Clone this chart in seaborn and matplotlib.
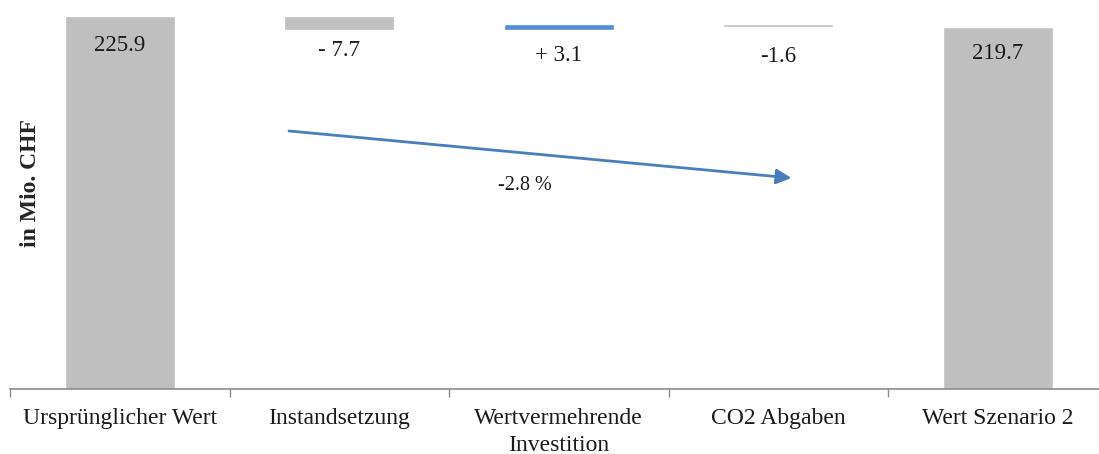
import matplotlib
matplotlib.use('Agg')
import matplotlib.pyplot as plt
import seaborn as sns
import pandas as pd

# Wasserfall: Ausgangswert, Veränderungen, Endwert (in Mio. CHF)
categories = ['Ursprünglicher Wert', 'Instandsetzung', 'Wertvermehrende\nInvestition',
              'CO2 Abgaben', 'Wert Szenario 2']
start_value = 225.9
changes = [-7.7, 3.1, -1.6]
end_value = 219.7
value_labels = ['225.9', '- 7.7', '+ 3.1', '-1.6', '219.7']
change_pct = '-2.8 %'

# Ober- und Unterkante jedes Balkens aus den Werten
tops, bottoms = [start_value], [0]
running = start_value
for c in changes:
    new = running + c
    tops.append(max(running, new))
    bottoms.append(min(running, new))
    running = new
tops.append(end_value)
bottoms.append(0)

df = pd.DataFrame({'cat': categories, 'top': tops, 'bottom': bottoms})
colors = ['#BFBFBF', '#BFBFBF', '#558ED5', '#BFBFBF', '#BFBFBF']

sns.set_style('white')
plt.rcParams['font.family'] = ['Liberation Serif', 'DejaVu Serif']

fig = plt.figure(figsize=(10.99, 4.54), dpi=100)
ax = fig.add_axes([10 / 1099, 1 - 389 / 454, 1097.5 / 1099, 389 / 454])

sns.barplot(data=df, x='cat', y='top', hue='cat', palette=colors, legend=False,
            width=0.5, saturation=1, ax=ax)
# weisse Balken verdecken den Teil unterhalb der Schwebebalken
sns.barplot(data=df, x='cat', y='bottom', color='white', width=0.52,
            saturation=1, ax=ax)

ax.set_ylim(15.7, 234.9)
ax.set_xlim(-0.5, len(categories) - 0.5)

label_y = [209.0, 206.7, 203.9, 202.8, 205.0]
for i, (lab, y) in enumerate(zip(value_labels, label_y)):
    ax.text(i, y, lab, ha='center', va='center', fontsize=16.5, color='#1a1a1a')

ax.annotate('', xy=(3.06, 134.6), xytext=(0.771, 161.1),
            arrowprops=dict(arrowstyle='-|>,head_length=0.9,head_width=0.45',
                            color='#4A7EBB', lw=2, shrinkA=0, shrinkB=0))
ax.text(1.846, 130.6, change_pct, ha='center', va='center', fontsize=14.5, color='#1a1a1a')

ax.set_xlabel('')
ax.set_ylabel('')
ax.set_yticks([])
sns.despine(ax=ax, left=True)
ax.spines['bottom'].set_color('#8C8C8C')
ax.spines['bottom'].set_linewidth(1.2)
ax.set_xticks(range(len(categories)))
ax.set_xticklabels(categories, fontsize=17, color='#1a1a1a', linespacing=1.35)
ax.set_xticks([i - 0.5 for i in range(len(categories) + 1)], minor=True)
ax.tick_params(axis='x', which='major', length=0, pad=14)
ax.tick_params(axis='x', which='minor', length=6, width=1, color='#8C8C8C',
               direction='out', bottom=True)

fig.text(30 / 1099, 1 - 183 / 454, 'in Mio. CHF', rotation=90, ha='center',
         va='center', fontsize=17, fontweight='bold')

fig.savefig('out.png', dpi=100)
